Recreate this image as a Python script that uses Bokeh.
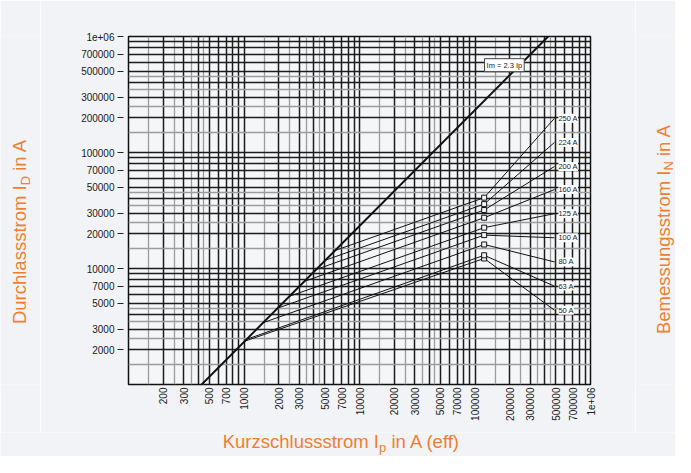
import math
from bokeh.plotting import figure
from bokeh.layouts import row, column
from bokeh.models import (Range1d, FixedTicker, Grid, Label, LabelSet,
                          ColumnDataSource, CustomJSTickFormatter)
from bokeh.core.properties import value
from bokeh.embed import file_html
from bokeh.resources import INLINE

# ---------------- data ----------------
ratings = ["50 A", "63 A", "80 A", "100 A", "125 A", "160 A", "200 A", "224 A", "250 A"]
ip_start = [1000, 1050, 1450, 1930, 2440, 3290, 4170, 5010, 6070]
id_start = [2350, 2450, 3400, 4530, 5730, 7710, 9770, 11750, 14220]
ip_break = [120000, 120000, 120000, 120000, 120000, 120000, 120000, 120000, 120000]
id_break = [12200, 13000, 16100, 19400, 22500, 27400, 31900, 35900, 40800]
ip_lead = [487000, 487000, 487000, 487000, 487000, 487000, 487000, 487000, 487000]
id_lead = [4370, 7050, 11400, 18400, 29700, 47900, 75700, 122000, 197000]

im_ip = [430, 430000]
im_id = [1000, 1000000]
im_text = "Im = 2.3 Ip"

x_ticks = [200, 300, 500, 700, 1000, 2000, 3000, 5000, 7000, 10000, 20000, 30000,
           50000, 70000, 100000, 200000, 300000, 500000, 700000, 1000000]
y_ticks = [2000, 3000, 5000, 7000, 10000, 20000, 30000, 50000, 70000, 100000,
           200000, 300000, 500000, 700000, 1000000]

# ---------------- styling ----------------
FONT = "Liberation Sans"
ORANGE = "#ef7f2f"
BG = "#f1f3f6"
SIDE_W = 40
MAIN_W, MAIN_H = 595, 432
FRAME_H = 348
BOTTOM_H = 24

p = figure(width=MAIN_W, height=MAIN_H, x_axis_type="log", y_axis_type="log",
           x_range=Range1d(100, 1e6), y_range=Range1d(1000, 1e6),
           output_backend="svg", toolbar_location=None,
           min_border_left=88, min_border_right=45, min_border_top=36,
           min_border_bottom=48)
p.background_fill_color = "#f4f6f8"
p.border_fill_color = BG
p.outline_line_color = "#111111"
p.outline_line_width = 1.5
p.xgrid.visible = False
p.ygrid.visible = False

# log paper grid
def decade_lines(mults, lo, hi):
    out = []
    k = lo
    while k <= hi:
        for m in mults:
            out.append(m * 10 ** k)
        k += 1
    return out

black_x = decade_lines([1, 2, 3, 4, 5, 6, 7, 8, 9], 2, 6)
gray_x = decade_lines([1.5, 2.5, 3.5, 4.5], 2, 5)
black_y = decade_lines([1, 2, 3, 4, 5, 6, 7, 8, 9], 3, 6)
gray_y = decade_lines([1.5, 2.5, 3.5, 4.5], 3, 5)

for dim, g, b in ((0, gray_x, black_x), (1, gray_y, black_y)):
    p.add_layout(Grid(dimension=dim, ticker=FixedTicker(ticks=g),
                      grid_line_color="#9c9c9c", grid_line_width=1.3))
    p.add_layout(Grid(dimension=dim, ticker=FixedTicker(ticks=b),
                      grid_line_color="#1c1c1c", grid_line_width=1.5))

# axes
fmt = CustomJSTickFormatter(code="return tick >= 999999 ? '1e+06' : Math.round(tick).toString();")
for ax, ticks in ((p.xaxis, x_ticks), (p.yaxis, y_ticks)):
    ax.ticker = FixedTicker(ticks=ticks)
    ax.formatter = fmt
    ax.minor_tick_line_color = None
    ax.axis_line_color = None
    ax.major_label_text_font = FONT
    ax.major_label_text_font_size = "10px"
    ax.major_label_text_color = "#1a1a1a"
    ax.major_label_standoff = 3

p.yaxis.major_tick_in = -5
p.yaxis.major_tick_out = 11
p.yaxis.major_tick_line_color = "#222222"
p.xaxis.major_tick_in = 0
p.xaxis.major_tick_out = 0
p.xaxis.major_tick_line_color = None
p.xaxis.major_label_orientation = math.pi / 2

# Im line
p.line(im_ip, im_id, line_width=2, color="#111111")

# fuse cut-off lines with leaders
xs = [[a, b, c] for a, b, c in zip(ip_start, ip_break, ip_lead)]
ys = [[a, b, c] for a, b, c in zip(id_start, id_break, id_lead)]
p.multi_line(xs=xs, ys=ys, line_width=1, color="#111111")
p.scatter(ip_break, id_break, marker="square", size=5, fill_color="#f2f2f2",
          line_color="#111111", line_width=1)

src = ColumnDataSource(dict(x=ip_lead, y=id_lead, t=ratings))
p.add_layout(LabelSet(x="x", y="y", text="t", source=src, x_offset=4,
                      text_baseline="middle", text_font=value(FONT),
                      text_font_size=value("7.5px"), text_color="#222222",
                      background_fill_color="white"))

p.add_layout(Label(x=121000, y=566000, text=im_text, text_baseline="middle",
                   text_font=FONT, text_font_size="7.5px", text_color="#222222",
                   background_fill_color="white", border_line_color="#444444",
                   border_line_width=1, padding=2))

# ---------------- title strips (pixel coordinate figures) ----------------
# side strips: their frames are aligned with the main frame by the row layout,
# so y is measured in px up from the main frame bottom
def strip(w, h, yspan):
    f = figure(width=w, height=h, x_range=Range1d(0, w), y_range=Range1d(0, yspan),
               output_backend="svg", toolbar_location=None, title=None,
               x_axis_location=None, y_axis_location=None, min_border=0)
    f.background_fill_color = BG
    f.border_fill_color = BG
    f.outline_line_color = None
    f.grid.visible = False
    return f

def put(f, parts, angle):
    # each part: text, centre x, centre y, font size
    for (txt, x, y, size) in parts:
        f.add_layout(Label(x=x, y=y, text=txt, angle=angle, text_font=FONT,
                           text_font_size=size, text_color=ORANGE,
                           text_baseline="middle", text_align="center"))

left = strip(SIDE_W, MAIN_H, FRAME_H)
put(left, [("Durchlassstrom I", 18.9, 129.8, "18.5px"),
           ("D", 24.8, 203.9, "13px"),
           ("in A", 18.9, 229.65, "18.5px")], math.pi / 2)

right = strip(SIDE_W, MAIN_H, FRAME_H)
put(right, [("Bemessungsstrom I", 28.3, 132.15, "18.5px"),
            ("N", 32.8, 218.6, "13px"),
            ("in A", 28.3, 244.35, "18.5px")], math.pi / 2)

bottom = strip(SIDE_W * 2 + MAIN_W, BOTTOM_H, BOTTOM_H)
put(bottom, [("Kurzschlussstrom I", 300.35, 15.4, "18.5px"),
             ("p", 382.1, 9.5, "13px"),
             ("in A (eff)", 425.75, 15.4, "18.5px")], 0)

layout = column(row(left, p, right), bottom)

open("out.html", "w").write(file_html(layout, INLINE))
